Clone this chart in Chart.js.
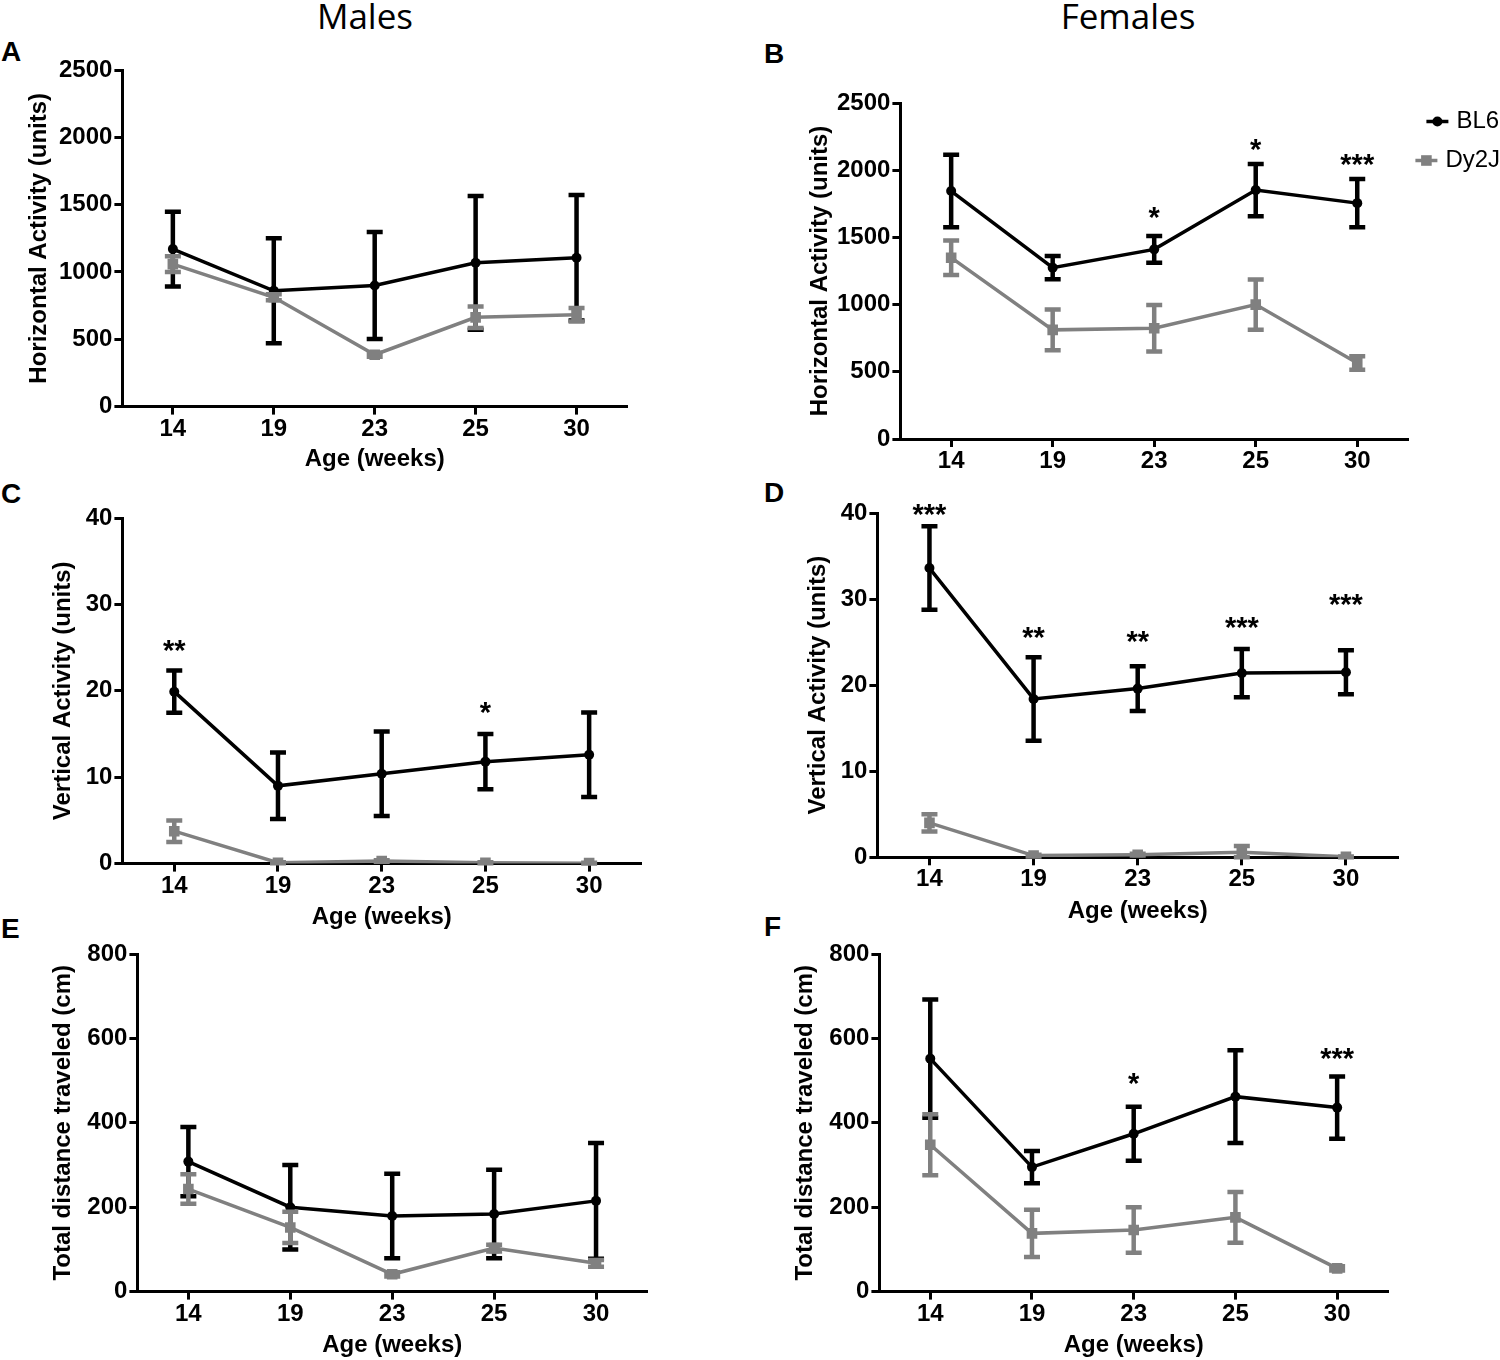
<!DOCTYPE html>
<html>
<head>
<meta charset="utf-8">
<script src="https://cdn.jsdelivr.net/npm/chart.js@4.4.1/dist/chart.umd.min.js"></script>
<style>
  body { margin: 0; background: #fff; width: 1500px; height: 1360px; position: relative; overflow: hidden; }
  canvas { position: absolute; }
  .letter { position: absolute; font: bold 28px 'Liberation Sans', Arial, sans-serif; z-index: 2; line-height: 1; }
  .head { position: absolute; top: -8px; font: 35px 'Open Sans', sans-serif; transform: translateX(-50%); white-space: nowrap; }
</style>
</head>
<body>
<div class="head" style="left:365px">Males</div>
<div class="head" style="left:1128px">Females</div>
<div class="letter" style="left:1px;top:38px">A</div>
<div class="letter" style="left:764px;top:40px">B</div>
<div class="letter" style="left:1px;top:480px">C</div>
<div class="letter" style="left:764px;top:479px">D</div>
<div class="letter" style="left:1px;top:915px">E</div>
<div class="letter" style="left:764px;top:913px">F</div>
<canvas id="chartA"></canvas>
<canvas id="chartB"></canvas>
<canvas id="chartC"></canvas>
<canvas id="chartD"></canvas>
<canvas id="chartE"></canvas>
<canvas id="chartF"></canvas>
<script>
// Alter in Wochen
const ages = ['14', '19', '23', '25', '30'];

// Horizontal Activity (units)
const horizMaleBL6 = [1170, 860, 900, 1068, 1106];
const horizMaleBL6Sem = [278, 390, 397, 497, 466];
const horizMaleDy2J = [1058, 812, 385, 663, 682];
const horizMaleDy2JSem = [58, 22, 15, 80, 50];
const horizFemaleBL6 = [1845, 1275, 1411, 1852, 1755];
const horizFemaleBL6Sem = [270, 87, 100, 195, 180];
const horizFemaleDy2J = [1349, 812, 824, 1000, 565];
const horizFemaleDy2JSem = [128, 152, 173, 187, 50];
const horizFemaleStars = ['', '', '*', '*', '***'];
const horizFemaleStarY = [null, null, 1686, 2198, 2087];

// Vertical Activity (units)
const vertMaleBL6 = [19.9, 9.0, 10.4, 11.8, 12.6];
const vertMaleBL6Sem = [2.45, 3.85, 4.9, 3.2, 4.9];
const vertMaleDy2J = [3.75, 0.1, 0.3, 0.1, 0.05];
const vertMaleDy2JSem = [1.25, 0.05, 0.1, 0.05, 0.05];
const vertMaleStars = ['**', '', '', '*', ''];
const vertMaleStarY = [25.3, null, null, 18.1, null];
const vertFemaleBL6 = [33.6, 18.4, 19.6, 21.4, 21.5];
const vertFemaleBL6Sem = [4.85, 4.85, 2.6, 2.8, 2.55];
const vertFemaleDy2J = [4.0, 0.2, 0.3, 0.6, 0.05];
const vertFemaleDy2JSem = [1.0, 0.1, 0.1, 0.7, 0.05];
const vertFemaleStars = ['***', '**', '**', '***', '***'];
const vertFemaleStarY = [40.5, 26.2, 25.7, 27.3, 30.0];

// Total distance traveled (cm)
const distMaleBL6 = [308, 200, 179, 184, 215];
const distMaleBL6Sem = [82, 100, 100, 105, 137];
const distMaleDy2J = [243, 152, 41, 103, 67];
const distMaleDy2JSem = [35, 37, 5, 8, 8];
const distFemaleBL6 = [552, 295, 374, 462, 436];
const distFemaleBL6Sem = [140, 38, 64, 110, 74];
const distFemaleDy2J = [348, 138, 146, 176, 55];
const distFemaleDy2JSem = [72, 56, 54, 60, 5];
const distFemaleStars = ['', '', '*', '', '***'];
const distFemaleStarY = [null, null, 507, null, 566];

const FONT = "'Liberation Sans', Arial, sans-serif";
const GRAY = '#808080';
Chart.defaults.font.family = FONT;
Chart.defaults.color = '#000';

// Fehlerbalken (Mittelwert +/- SEM) je Datensatz
const errorBars = {
    id: 'errorBars',
    afterDatasetDraw(chart, args) {
        const ds = chart.data.datasets[args.index];
        if (!ds.sem) return;
        const yScale = chart.scales.y;
        const ctx = chart.ctx;
        ctx.save();
        ctx.strokeStyle = ds.borderColor;
        ctx.lineWidth = 4.5;
        args.meta.data.forEach((pt, i) => {
            const top = yScale.getPixelForValue(ds.data[i] + ds.sem[i]);
            const bot = yScale.getPixelForValue(Math.max(0, ds.data[i] - ds.sem[i]));
            ctx.beginPath();
            ctx.moveTo(pt.x, top); ctx.lineTo(pt.x, bot);
            ctx.moveTo(pt.x - 8, top); ctx.lineTo(pt.x + 8, top);
            ctx.moveTo(pt.x - 8, bot); ctx.lineTo(pt.x + 8, bot);
            ctx.stroke();
        });
        ctx.restore();
    }
};

// Signifikanzsterne
const stars = {
    id: 'stars',
    afterDraw(chart, args, opts) {
        if (!opts.labels) return;
        const ctx = chart.ctx;
        ctx.save();
        ctx.font = 'bold 29px ' + FONT;
        ctx.fillStyle = '#000';
        ctx.textAlign = 'center';
        ctx.textBaseline = 'middle';
        opts.labels.forEach((s, i) => {
            if (!s) return;
            const x = chart.scales.x.getPixelForValue(i);
            const y = chart.scales.y.getPixelForValue(opts.y[i]);
            ctx.fillText(s, x, y + 7);
        });
        ctx.restore();
    }
};

// Legende rechts neben Panel B
const sideLegend = {
    id: 'sideLegend',
    afterDraw(chart, args, opts) {
        if (!opts.items) return;
        const ctx = chart.ctx;
        ctx.save();
        ctx.font = '24px ' + FONT;
        ctx.textBaseline = 'middle';
        opts.items.forEach((it, k) => {
            const ds = chart.data.datasets[k];
            ctx.strokeStyle = ds.borderColor;
            ctx.fillStyle = ds.borderColor;
            ctx.lineWidth = 3.5;
            ctx.beginPath();
            ctx.moveTo(it.x - 11, it.y); ctx.lineTo(it.x + 11, it.y);
            ctx.stroke();
            Chart.helpers.drawPoint(ctx, { pointStyle: ds.pointStyle, radius: ds.pointRadius, borderWidth: 0 }, it.x, it.y);
            ctx.fillStyle = '#000';
            ctx.fillText(ds.label, it.tx, it.y);
        });
        ctx.restore();
    }
};

const makeChart = (id, box, yTitle, xTitle, yMax, yStep, bl6, bl6Sem, dy, dySem, starLabels, starY, legend) => {
    const canvas = document.getElementById(id);
    const padTop = 30;
    const padRight = legend ? 1500 - box.aR : 15;
    const left = box.yTx - 14.4;
    const top = box.aT - padTop;
    const yW = box.aL - left;
    const xH = xTitle ? box.xTy + 14.4 - box.aB : 40;
    const w = box.aR + padRight - left;
    const h = box.aB - top + xH;
    canvas.width = w; canvas.height = h;
    canvas.style.left = left + 'px'; canvas.style.top = top + 'px';
    canvas.style.width = w + 'px'; canvas.style.height = h + 'px';

    const axisGrid = { display: true, drawOnChartArea: false, drawTicks: true, tickLength: 8, tickWidth: 3, tickColor: '#000', offset: false };
    const axisBorder = { display: true, color: '#000', width: 3 };
    const tickFont = { family: FONT, size: 24, weight: 'bold' };

    return new Chart(canvas.getContext('2d'), {
        type: 'line',
        data: {
            labels: ages,
            datasets: [{
                label: 'BL6', data: bl6, sem: bl6Sem, order: 2,
                borderColor: '#000', backgroundColor: '#000', borderWidth: 3.5,
                pointStyle: 'circle', pointRadius: 5, pointBorderWidth: 0, tension: 0
            }, {
                label: 'Dy2J', data: dy, sem: dySem, order: 1,
                borderColor: GRAY, backgroundColor: GRAY, borderWidth: 3.5,
                pointStyle: 'rect', pointRadius: 7.5, pointBorderWidth: 0, tension: 0
            }]
        },
        options: {
            responsive: false,
            animation: false,
            layout: { padding: { top: padTop, right: padRight, left: 0, bottom: 0 } },
            scales: {
                x: {
                    type: 'category', offset: true,
                    grid: axisGrid, border: axisBorder,
                    ticks: { font: tickFont, padding: 0, maxRotation: 0 },
                    title: { display: !!xTitle, text: xTitle || '', font: tickFont, padding: 0 },
                    afterFit: s => { s.height = xH; }
                },
                y: {
                    min: 0, max: yMax,
                    grid: axisGrid, border: axisBorder,
                    ticks: { stepSize: yStep, font: tickFont, padding: 2, callback: v => String(v) },
                    title: { display: true, text: yTitle, font: tickFont, padding: 0 },
                    afterFit: s => { s.width = yW; }
                }
            },
            plugins: {
                legend: { display: false },
                tooltip: { enabled: false },
                stars: { labels: starLabels, y: starY },
                sideLegend: { items: legend ? legend.map(it => ({ x: it.x - left, y: it.y - top, tx: it.tx - left })) : null }
            }
        },
        plugins: [errorBars, stars, sideLegend]
    });
};

const boxA = { aL: 122, aR: 627, aT: 70, aB: 407, yTx: 39, xTy: 460 };
const boxB = { aL: 900, aR: 1408, aT: 102.5, aB: 439, yTx: 820, xTy: null };
const boxC = { aL: 122, aR: 641, aT: 518, aB: 864, yTx: 63, xTy: 918 };
const boxD = { aL: 877, aR: 1398, aT: 512.7, aB: 857.7, yTx: 818, xTy: 912 };
const boxE = { aL: 137, aR: 647, aT: 954, aB: 1292, yTx: 63, xTy: 1346 };
const boxF = { aL: 879, aR: 1388, aT: 954, aB: 1292, yTx: 805, xTy: 1346 };

const legendB = [{ x: 1437, y: 121, tx: 1456 }, { x: 1426, y: 160, tx: 1445 }];

makeChart('chartA', boxA, 'Horizontal Activity (units)', 'Age (weeks)', 2500, 500,
    horizMaleBL6, horizMaleBL6Sem, horizMaleDy2J, horizMaleDy2JSem, null, null, null);
makeChart('chartB', boxB, 'Horizontal Activity (units)', null, 2500, 500,
    horizFemaleBL6, horizFemaleBL6Sem, horizFemaleDy2J, horizFemaleDy2JSem, horizFemaleStars, horizFemaleStarY, legendB);
makeChart('chartC', boxC, 'Vertical Activity (units)', 'Age (weeks)', 40, 10,
    vertMaleBL6, vertMaleBL6Sem, vertMaleDy2J, vertMaleDy2JSem, vertMaleStars, vertMaleStarY, null);
makeChart('chartD', boxD, 'Vertical Activity (units)', 'Age (weeks)', 40, 10,
    vertFemaleBL6, vertFemaleBL6Sem, vertFemaleDy2J, vertFemaleDy2JSem, vertFemaleStars, vertFemaleStarY, null);
makeChart('chartE', boxE, 'Total distance traveled (cm)', 'Age (weeks)', 800, 200,
    distMaleBL6, distMaleBL6Sem, distMaleDy2J, distMaleDy2JSem, null, null, null);
makeChart('chartF', boxF, 'Total distance traveled (cm)', 'Age (weeks)', 800, 200,
    distFemaleBL6, distFemaleBL6Sem, distFemaleDy2J, distFemaleDy2JSem, distFemaleStars, distFemaleStarY, null);
</script>
</body>
</html>
